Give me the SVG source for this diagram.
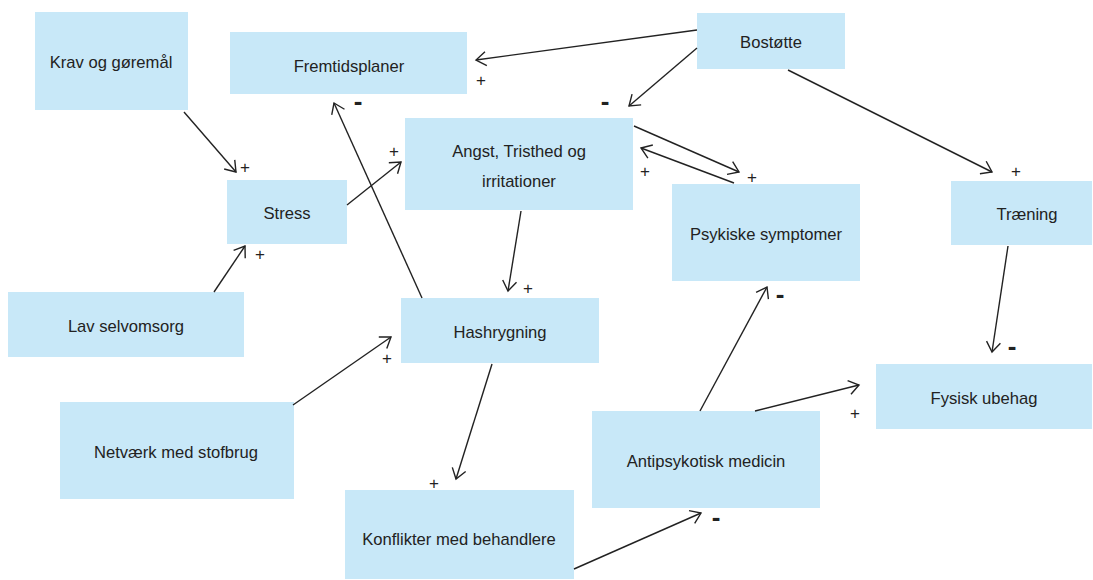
<svg xmlns="http://www.w3.org/2000/svg" width="1093" height="580" viewBox="0 0 1093 580">
<style>
.box{fill:#c8e8f8;}
.lbl{font-family:"Liberation Sans",Arial,sans-serif;font-size:16.6px;fill:#222;text-anchor:middle;dominant-baseline:central;}
.c{stroke:#222;stroke-width:1.4;fill:none;marker-end:url(#ah);}
.p{font-family:"Liberation Sans",Arial,sans-serif;font-size:17px;fill:#222;text-anchor:middle;dominant-baseline:central;}
.m{font-family:"Liberation Sans",Arial,sans-serif;font-size:26px;font-weight:bold;fill:#222;text-anchor:middle;dominant-baseline:central;}
</style>
<defs>
<marker id="ah" viewBox="-12 -10 14 20" refX="0" refY="0" markerWidth="14" markerHeight="20" markerUnits="userSpaceOnUse" orient="auto">
<path d="M-10,-7 L0,0 L-10,7" fill="none" stroke="#222" stroke-width="1.4"/>
</marker>
</defs>
<rect width="1093" height="580" fill="#fff"/>
<g id="krav"><rect class="box" x="35" y="12" width="153" height="98"/><text class="lbl" x="111" y="62">Krav og gøremål</text></g>
<g id="fremtid"><rect class="box" x="230" y="32" width="237" height="62"/><text class="lbl" x="349" y="66">Fremtidsplaner</text></g>
<g id="bostotte"><rect class="box" x="697" y="13" width="148" height="56"/><text class="lbl" x="771" y="42">Bostøtte</text></g>
<g id="angst"><rect class="box" x="405" y="118" width="228" height="92"/><text class="lbl" x="519" y="151">Angst, Tristhed og</text><text class="lbl" x="519" y="181">irritationer</text></g>
<g id="stress"><rect class="box" x="227" y="180" width="120" height="64"/><text class="lbl" x="287" y="213">Stress</text></g>
<g id="psykiske"><rect class="box" x="672" y="184" width="188" height="97"/><text class="lbl" x="766" y="234">Psykiske symptomer</text></g>
<g id="traening"><rect class="box" x="951" y="181" width="141" height="64"/><text class="lbl" x="1027" y="214">Træning</text></g>
<g id="lav"><rect class="box" x="8" y="292" width="236" height="65"/><text class="lbl" x="126" y="326">Lav selvomsorg</text></g>
<g id="hash"><rect class="box" x="401" y="298" width="198" height="65"/><text class="lbl" x="500" y="332">Hashrygning</text></g>
<g id="fysisk"><rect class="box" x="876" y="364" width="216" height="65"/><text class="lbl" x="984" y="398">Fysisk ubehag</text></g>
<g id="netvaerk"><rect class="box" x="60" y="402" width="234" height="97"/><text class="lbl" x="176" y="452">Netværk med stofbrug</text></g>
<g id="antipsyk"><rect class="box" x="592" y="411" width="228" height="97"/><text class="lbl" x="706" y="461">Antipsykotisk medicin</text></g>
<g id="konflikter"><rect class="box" x="345" y="490" width="229" height="89"/><text class="lbl" x="459" y="539">Konflikter med behandlere</text></g>
<g id="connectors">
<line class="c" x1="184" y1="112" x2="236" y2="172"/>
<line class="c" x1="214" y1="292" x2="245" y2="246"/>
<line class="c" x1="347" y1="205" x2="401" y2="162"/>
<line class="c" x1="422" y1="298" x2="334" y2="103"/>
<line class="c" x1="697" y1="30" x2="476" y2="60"/>
<line class="c" x1="697" y1="48" x2="629" y2="106"/>
<line class="c" x1="634" y1="126" x2="739" y2="172"/>
<line class="c" x1="734" y1="183" x2="641" y2="148"/>
<line class="c" x1="788" y1="70" x2="992" y2="172"/>
<line class="c" x1="521" y1="211" x2="508" y2="291"/>
<line class="c" x1="293" y1="405" x2="391" y2="337"/>
<line class="c" x1="1008" y1="246" x2="992" y2="352"/>
<line class="c" x1="492" y1="364" x2="456" y2="479"/>
<line class="c" x1="700" y1="411" x2="767" y2="287"/>
<line class="c" x1="755" y1="411" x2="859" y2="385"/>
<line class="c" x1="574" y1="569" x2="701" y2="513"/>
</g>
<g id="signs">
<text class="p" x="245" y="167">+</text>
<text class="p" x="260" y="254">+</text>
<text class="p" x="394" y="151">+</text>
<text class="m" x="358" y="101">-</text>
<text class="p" x="481" y="80">+</text>
<text class="m" x="605" y="101">-</text>
<text class="p" x="752" y="177">+</text>
<text class="p" x="645" y="171">+</text>
<text class="p" x="1016" y="171">+</text>
<text class="p" x="528" y="288">+</text>
<text class="p" x="387" y="358">+</text>
<text class="m" x="1012" y="346">-</text>
<text class="p" x="434" y="483">+</text>
<text class="m" x="780" y="294">-</text>
<text class="p" x="855" y="413">+</text>
<text class="m" x="716" y="517">-</text>
</g>
</svg>
